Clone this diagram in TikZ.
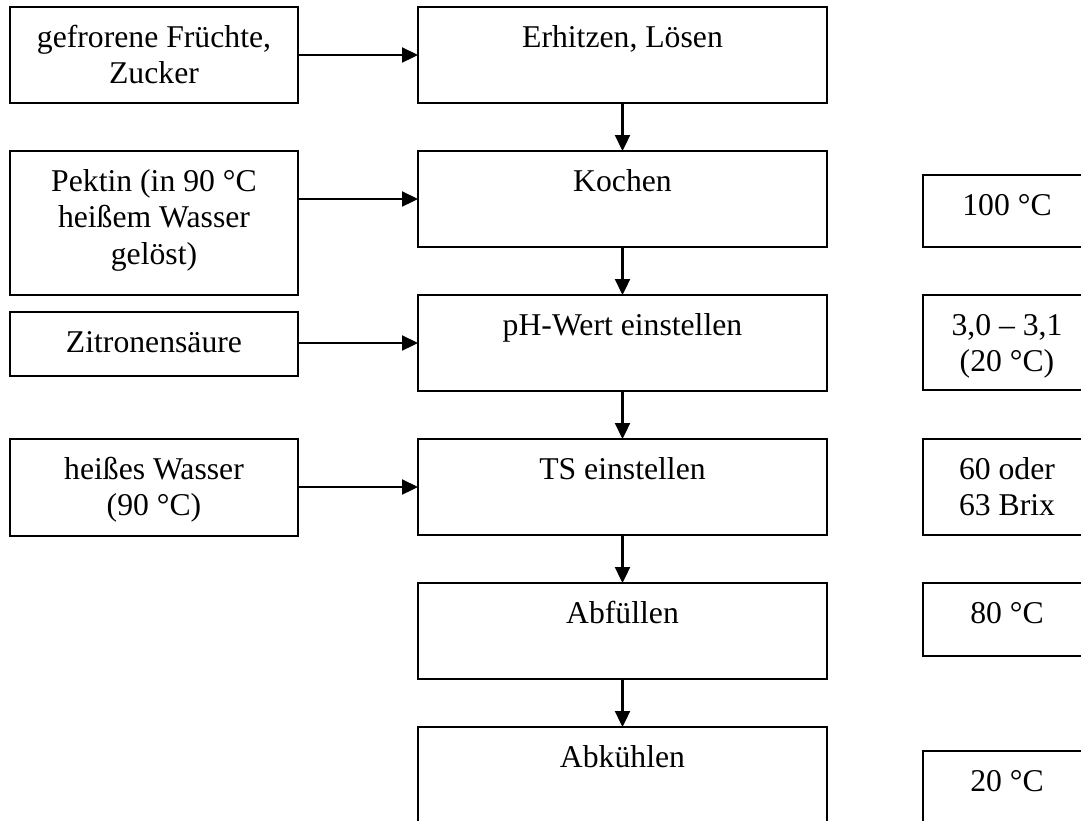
\documentclass[tikz,border=0pt]{standalone}
\usepackage{fontspec}
\setmainfont{Liberation Serif}
\usetikzlibrary{arrows.meta}

% fixed-size box content: width, height, text set from the top
\newcommand{\flowtext}[3]{\parbox[c][#2pt][t]{#1pt}{\centering\rule{0pt}{40pt}#3}}

\begin{document}
\begin{tikzpicture}[x=1pt,y=-1pt,
  box/.style={draw, line width=2.3pt, inner sep=0pt, outer sep=0pt, anchor=north west,
              font=\fontsize{31.7}{36.5}\selectfont},
  flow/.style={line width=2.3pt, -{Triangle[length=16pt,width=15pt]}}]
\useasboundingbox (0,0) rectangle (1081,820);

% inputs
\node[box] (fruit)  at (10,7)   {\flowtext{288}{96}{gefrorene Früchte,\\Zucker}};
\node[box] (pektin) at (10,151) {\flowtext{288}{144}{Pektin (in 90 °C\\heißem Wasser\\gelöst)}};
\node[box] (zitr)   at (10,312) {\flowtext{288}{64}{Zitronensäure}};
\node[box] (wasser) at (10,439) {\flowtext{288}{97}{heißes Wasser\\(90 °C)}};

% process steps
\node[box] (erh)  at (418,7)   {\flowtext{409}{96}{Erhitzen, Lösen}};
\node[box] (koch) at (418,151) {\flowtext{409}{96}{Kochen}};
\node[box] (ph)   at (418,295) {\flowtext{409}{96}{pH-Wert einstellen}};
\node[box] (ts)   at (418,439) {\flowtext{409}{96}{TS einstellen}};
\node[box] (abf)  at (418,583) {\flowtext{409}{96}{Abfüllen}};
\node[box] (abk)  at (418,727) {\flowtext{409}{96}{Abkühlen}};

% process parameters
\node[box] (p1) at (923,175) {\flowtext{168}{72}{100 °C}};
\node[box] (p2) at (923,295) {\flowtext{168}{95}{3,0 – 3,1\\(20 °C)}};
\node[box] (p3) at (923,439) {\flowtext{168}{96}{60 oder\\63 Brix}};
\node[box] (p4) at (923,583) {\flowtext{168}{73}{80 °C}};
\node[box] (p5) at (923,751) {\flowtext{168}{72}{20 °C}};

% feeds into the steps
\draw[flow] (fruit.east  |- erh.west)  -- (erh.west);
\draw[flow] (pektin.east |- koch.west) -- (koch.west);
\draw[flow] (zitr.east   |- ph.west)   -- (ph.west);
\draw[flow] (wasser.east |- ts.west)   -- (ts.west);

% main sequence
\draw[flow] (erh.south)  -- (koch.north);
\draw[flow] (koch.south) -- (ph.north);
\draw[flow] (ph.south)   -- (ts.north);
\draw[flow] (ts.south)   -- (abf.north);
\draw[flow] (abf.south)  -- (abk.north);
\end{tikzpicture}
\end{document}
